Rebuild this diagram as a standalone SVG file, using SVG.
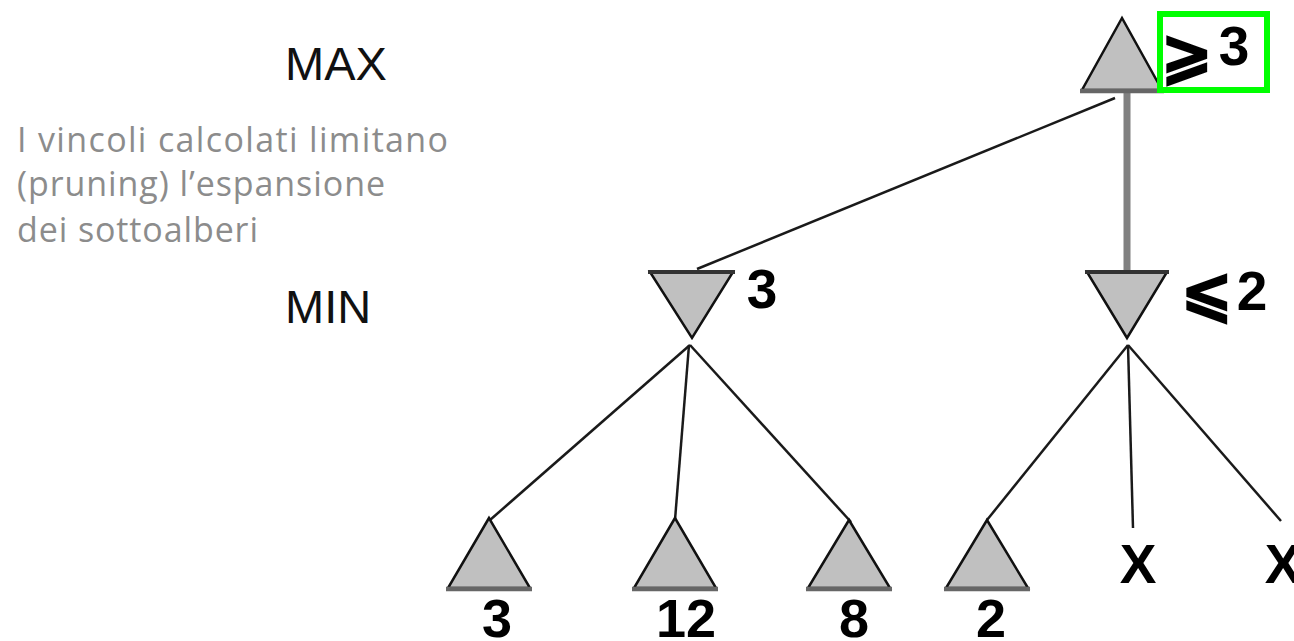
<svg xmlns="http://www.w3.org/2000/svg" width="1294" height="641" viewBox="0 0 1294 641">
<style>
.tri{fill:#c0c0c0;stroke:#111;stroke-width:2.5;stroke-linejoin:miter}
.base{stroke:#666;stroke-width:4.5;stroke-linecap:butt}
.topedge{stroke:#333;stroke-width:4}
.edge{stroke:#1a1a1a;stroke-width:2.5;fill:none}
.val{font-family:"Liberation Sans","DejaVu Sans",Arial,sans-serif;font-weight:bold;font-size:55px;fill:#000;text-anchor:middle}
.leafval{font-family:"Liberation Sans","DejaVu Sans",Arial,sans-serif;font-weight:bold;font-size:54px;fill:#000;text-anchor:middle}
.sym{font-family:"DejaVu Sans",sans-serif;font-weight:bold;font-size:62px;fill:#000;stroke:#000;stroke-width:2;text-anchor:middle}
.lvl{font-family:"Liberation Sans",Arial,sans-serif;font-size:47px;fill:#111}
.note{font-family:"Open Sans","DejaVu Sans",sans-serif;font-size:34px;fill:#8c8c8c}
</style>
<rect width="1294" height="641" fill="#fff"/>
<g id="connectors">
<line class="edge" x1="1115" y1="98" x2="697" y2="269"/>
<line x1="1127" y1="92" x2="1127" y2="272" stroke="#808080" stroke-width="7"/>
<line class="edge" x1="690" y1="345" x2="490" y2="520"/>
<line class="edge" x1="689" y1="345" x2="675" y2="520"/>
<line class="edge" x1="690" y1="345" x2="851" y2="522"/>
<line class="edge" x1="1128" y1="345" x2="987" y2="520"/>
<line class="edge" x1="1128" y1="345" x2="1133" y2="528"/>
<line class="edge" x1="1128" y1="345" x2="1281" y2="521"/>
</g>
<g id="labels-left">
<text class="lvl" x="285" y="80">MAX</text>
<text class="lvl" x="285" y="323">MIN</text>
<text class="note" x="17" y="152" textLength="431" lengthAdjust="spacing">I vincoli calcolati limitano</text>
<text class="note" x="17" y="196" textLength="368" lengthAdjust="spacing">(pruning) l’espansione</text>
<text class="note" x="17" y="242" textLength="241" lengthAdjust="spacing">dei sottoalberi</text>
</g>
<g id="root">
<polygon class="tri" points="1122,18 1082,90 1162,90"/>
<line class="base" x1="1080" y1="91" x2="1164" y2="91"/>
<rect x="1160" y="14" width="107" height="76" fill="none" stroke="#00ff00" stroke-width="6"/>
<text class="sym" x="1187" y="76">⩾</text>
<text class="val" x="1234" y="65">3</text>
</g>
<g id="min-left">
<polygon class="tri" points="650,272 733,272 692,338"/>
<line class="topedge" x1="648" y1="272" x2="735" y2="272"/>
<text class="val" x="762" y="308">3</text>
</g>
<g id="min-right">
<polygon class="tri" points="1087,272 1167,272 1127,338"/>
<line class="topedge" x1="1085" y1="272" x2="1169" y2="272" stroke="#000"/>
<text class="sym" x="1207" y="314">⩽</text>
<text class="val" x="1252" y="310">2</text>
</g>
<g id="leaf-3">
<polygon class="tri" points="489,518 448,588 530,588"/>
<line class="base" x1="446" y1="589" x2="532" y2="589"/>
<text class="leafval" x="497" y="637">3</text>
</g>
<g id="leaf-12">
<polygon class="tri" points="675,518 634,588 716,588"/>
<line class="base" x1="632" y1="589" x2="718" y2="589"/>
<text class="leafval" x="686" y="637">12</text>
</g>
<g id="leaf-8">
<polygon class="tri" points="849,520 808,588 890,588"/>
<line class="base" x1="806" y1="589" x2="892" y2="589"/>
<text class="leafval" x="854" y="637">8</text>
</g>
<g id="leaf-2">
<polygon class="tri" points="987,520 946,588 1028,588"/>
<line class="base" x1="944" y1="589" x2="1030" y2="589"/>
<text class="leafval" x="991" y="637">2</text>
</g>
<g id="pruned-1">
<text class="val" x="1138" y="583">X</text>
</g>
<g id="pruned-2">
<text class="val" x="1283" y="583">X</text>
</g>
</svg>
